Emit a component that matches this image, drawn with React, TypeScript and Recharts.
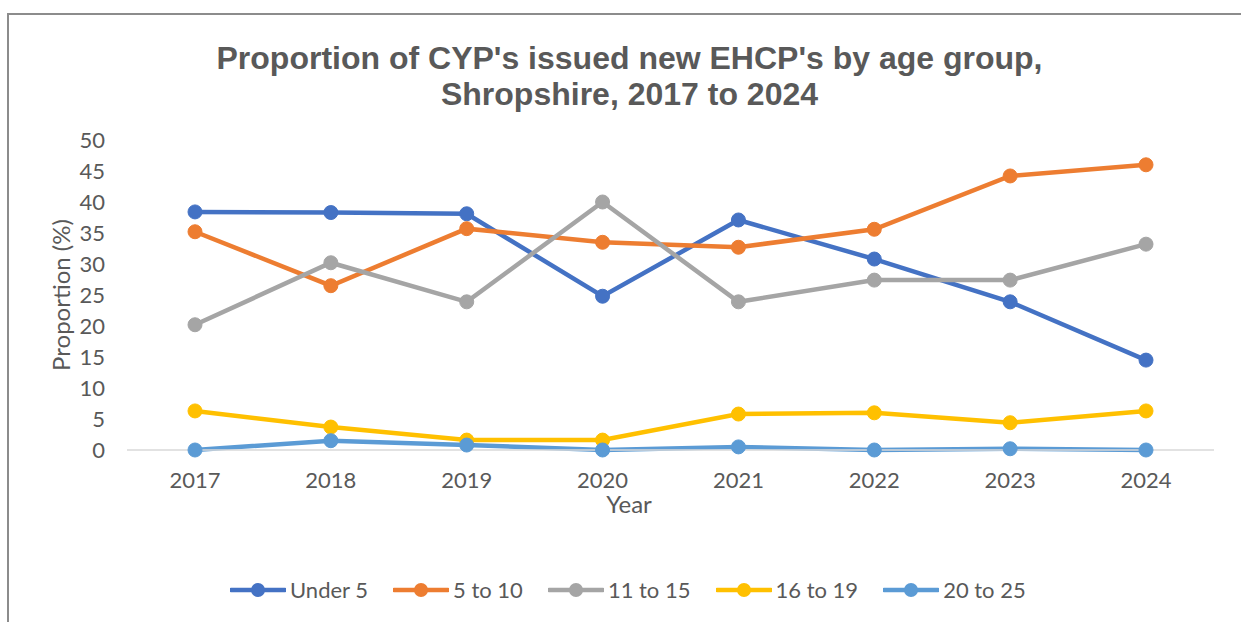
import { LineChart, Line, XAxis, YAxis, Legend } from 'recharts';

const years = ['2017', '2018', '2019', '2020', '2021', '2022', '2023', '2024'];
const under5 = [38.4, 38.3, 38.1, 24.8, 37.1, 30.8, 23.9, 14.5];
const age5to10 = [35.2, 26.5, 35.7, 33.5, 32.7, 35.6, 44.2, 46.0];
const age11to15 = [20.2, 30.2, 23.9, 40.0, 23.9, 27.4, 27.4, 33.2];
const age16to19 = [6.3, 3.7, 1.6, 1.6, 5.8, 6.0, 4.4, 6.3];
const age20to25 = [0, 1.5, 0.8, 0, 0.5, 0, 0.2, 0];
const yTicks = [0, 5, 10, 15, 20, 25, 30, 35, 40, 45, 50];

const series = [
  { key: 'under5', name: 'Under 5', color: '#4472C4', values: under5 },
  { key: 'a5to10', name: '5 to 10', color: '#ED7D31', values: age5to10 },
  { key: 'a11to15', name: '11 to 15', color: '#A5A5A5', values: age11to15 },
  { key: 'a16to19', name: '16 to 19', color: '#FFC000', values: age16to19 },
  { key: 'a20to25', name: '20 to 25', color: '#5B9BD5', values: age20to25 },
];

const data = years.map((year, i) => {
  const row: Record<string, string | number> = { year };
  series.forEach(s => { row[s.key] = s.values[i]; });
  return row;
});

const FONT = 'Lato, "Open Sans", sans-serif';
const TEXT = '#595959';

const LegendContent = () => (
  <div style={{ display: 'flex', alignItems: 'center', gap: 25, fontFamily: FONT, fontSize: 22, color: TEXT }}>
    {series.map(s => (
      <div key={s.key} style={{ display: 'flex', alignItems: 'center' }}>
        <svg width={56} height={16}>
          <line x1={1} y1={8} x2={55} y2={8} stroke={s.color} strokeWidth={4.5} strokeLinecap="round" />
          <circle cx={28} cy={8} r={7} fill={s.color} />
        </svg>
        <span style={{ marginLeft: 4, lineHeight: '22px' }}>{s.name}</span>
      </div>
    ))}
  </div>
);

export default function App() {
  return (
    <div style={{ position: 'absolute', left: 0, top: 0, width: 1241, height: 622, background: '#fff', overflow: 'hidden' }}>
      <div style={{ position: 'absolute', left: 7, top: 13, right: 0, bottom: 0, borderLeft: '2px solid #8c8c8c', borderTop: '2px solid #8c8c8c' }} />
      <div style={{ position: 'absolute', left: 0, top: 40, width: 1259, textAlign: 'center', fontFamily: '"Liberation Sans", Arial, sans-serif', fontWeight: 'bold', fontSize: 32, lineHeight: '36px', color: TEXT }}>
        Proportion of CYP's issued new EHCP's by age group,<br />Shropshire, 2017 to 2024
      </div>
      <LineChart width={1241} height={622} data={data} margin={{ top: 140, right: 27, bottom: 92, left: 0 }} style={{ position: 'absolute', left: 0, top: 0 }}>
        <XAxis
          dataKey="year"
          padding={{ left: 68, right: 68 }}
          tickLine={false}
          tickSize={0}
          tickMargin={22}
          axisLine={{ stroke: '#d9d9d9', strokeWidth: 1.5 }}
          tick={{ fontSize: 22, fill: TEXT, fontFamily: FONT }}
          height={80}
          label={{
            content: ({ viewBox }: any) => (
              <text x={629} y={viewBox.y + 63} textAnchor="middle" fontSize={24} fill={TEXT} fontFamily={FONT}>Year</text>
            ),
          }}
        />
        <YAxis
          width={127}
          domain={[0, 50]}
          ticks={yTicks}
          interval={0}
          tickLine={false}
          tickSize={0}
          tickMargin={22}
          axisLine={false}
          tick={{ fontSize: 22, fill: TEXT, fontFamily: FONT }}
          label={{
            content: ({ viewBox }: any) => {
              const cy = viewBox.y + viewBox.height / 2;
              return (
                <text x={60} y={cy} transform={`rotate(-90, 60, ${cy})`} textAnchor="middle" dominantBaseline="central" fontSize={24} fill={TEXT} fontFamily={FONT}>Proportion (%)</text>
              );
            },
          }}
        />
        <Legend
          verticalAlign="middle"
          align="center"
          layout="horizontal"
          content={<LegendContent />}
          wrapperStyle={{ left: 230, top: 579, width: 900 }}
        />
        {series.map(s => (
          <Line
            key={s.key}
            dataKey={s.key}
            name={s.name}
            type="linear"
            stroke={s.color}
            strokeWidth={4.5}
            dot={{ r: 7, fill: s.color, stroke: s.color, strokeWidth: 1 }}
            activeDot={false}
            isAnimationActive={false}
          />
        ))}
      </LineChart>
    </div>
  );
}
